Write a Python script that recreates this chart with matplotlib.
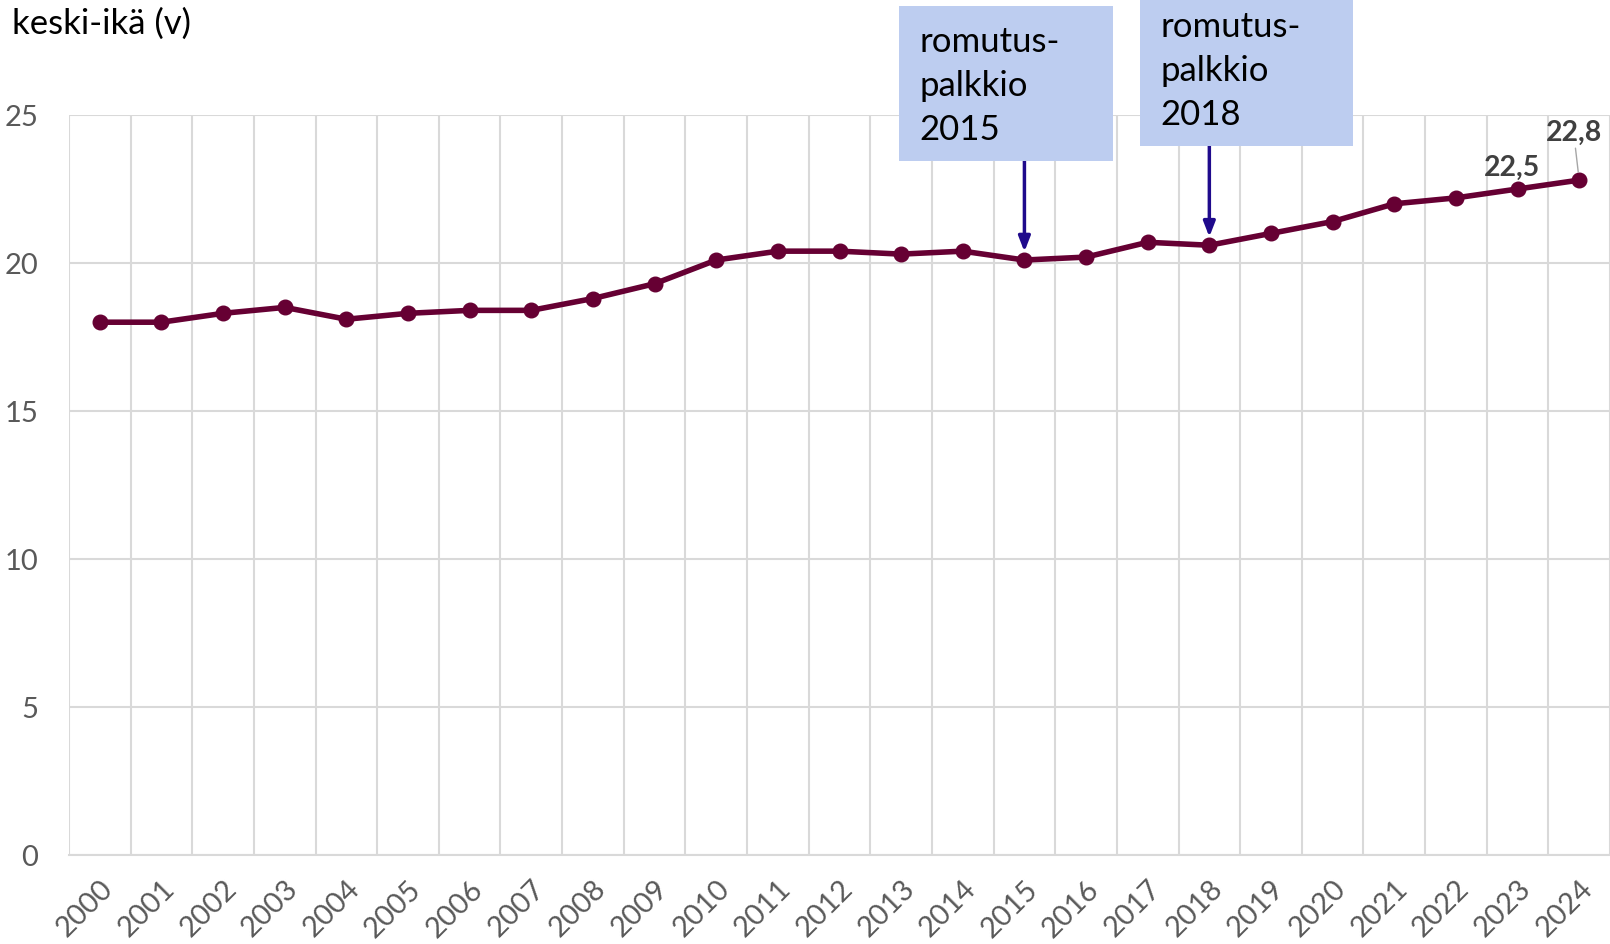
import matplotlib.pyplot as plt
import numpy as np
from matplotlib.patches import Rectangle

plt.rcParams['font.family'] = ['Lato', 'DejaVu Sans']

# data
years = [str(y) for y in range(2000, 2025)]
avg_age = [18.0, 18.0, 18.3, 18.5, 18.1, 18.3, 18.4, 18.4, 18.8, 19.3,
           20.1, 20.4, 20.4, 20.3, 20.4, 20.1, 20.2, 20.7, 20.6, 21.0,
           21.4, 22.0, 22.2, 22.5, 22.8]
labelled = {'2023': '22,5', '2024': '22,8'}
notes = [('2015', 'romutus-\npalkkio\n2015'), ('2018', 'romutus-\npalkkio\n2018')]

W, H = 1610, 944
fig = plt.figure(figsize=(W / 100, H / 100), dpi=100)
ax = fig.add_axes([69 / W, 89 / H, (W - 69) / W, 740 / H])

x = np.arange(len(years))
ax.plot(x, avg_age, color='#660033', lw=4, marker='o', ms=10.5, zorder=3)

ax.set_xlim(-0.5, len(years) - 0.5)
ax.set_ylim(0, 25)
ax.set_yticks([0, 5, 10, 15, 20, 25])
ax.set_xticks(x)
ax.set_xticklabels(years, rotation=45, ha='right', rotation_mode='anchor')
ax.set_xticks(np.arange(-0.5, len(years), 1), minor=True)
ax.tick_params(axis='both', which='both', length=0, labelsize=21, colors='#595959')
ax.tick_params(axis='y', pad=22)
ax.tick_params(axis='x', pad=15)
ax.grid(axis='y', color='#D9D9D9', lw=1.5)
ax.grid(axis='x', which='minor', color='#D9D9D9', lw=1.5)
ax.set_axisbelow(True)
for s in ['top', 'right', 'left']:
    ax.spines[s].set_visible(False)
ax.spines['bottom'].set_color('#D9D9D9')
ax.spines['bottom'].set_linewidth(1.5)

# data labels
for yr, txt in labelled.items():
    i = years.index(yr)
    if yr == '2024':
        ax.annotate(txt, (i, avg_age[i]), xytext=(-4, 25), textcoords='offset points',
                    ha='center', va='bottom', fontsize=20.5, fontweight='bold', color='#404040',
                    arrowprops=dict(arrowstyle='-', color='#A6A6A6', lw=1, shrinkA=0, shrinkB=6))
    else:
        ax.annotate(txt, (i, avg_age[i]), xytext=(-4, 6), textcoords='offset points',
                    ha='center', va='bottom', fontsize=20.5, fontweight='bold', color='#404040')

fig.text(12 / W, 1 - 24 / H, 'keski-ikä (v)', fontsize=25, va='center', ha='left', color='black')

# annotation boxes (pixel boxes: x0, x1, ytop, ybottom, text centre y)
boxes = [(899, 1113, 6, 161, 86), (1140, 1353, 0, 146, 71)]
for (yr, txt), (x0, x1, yt, yb, yc) in zip(notes, boxes):
    fig.patches.append(Rectangle((x0 / W, 1 - yb / H), (x1 - x0) / W, (yb - yt) / H,
                                 transform=fig.transFigure, facecolor='#BDCDF0',
                                 edgecolor='none', zorder=5))
    fig.text((x0 + 20) / W, 1 - yc / H, txt, fontsize=25, va='center', ha='left',
             linespacing=1.45, zorder=6)
    i = years.index(yr)
    ax.annotate('', xy=(i, avg_age[i]), xycoords='data',
                xytext=(ax.transData.transform((i, 0))[0] / W, 1 - yb / H),
                textcoords='figure fraction',
                arrowprops=dict(arrowstyle='-|>,head_length=0.9,head_width=0.35',
                                color='#1F0A8C', lw=2.5, shrinkA=0, shrinkB=6),
                annotation_clip=False, zorder=6)

fig.savefig('out.png', dpi=100)
